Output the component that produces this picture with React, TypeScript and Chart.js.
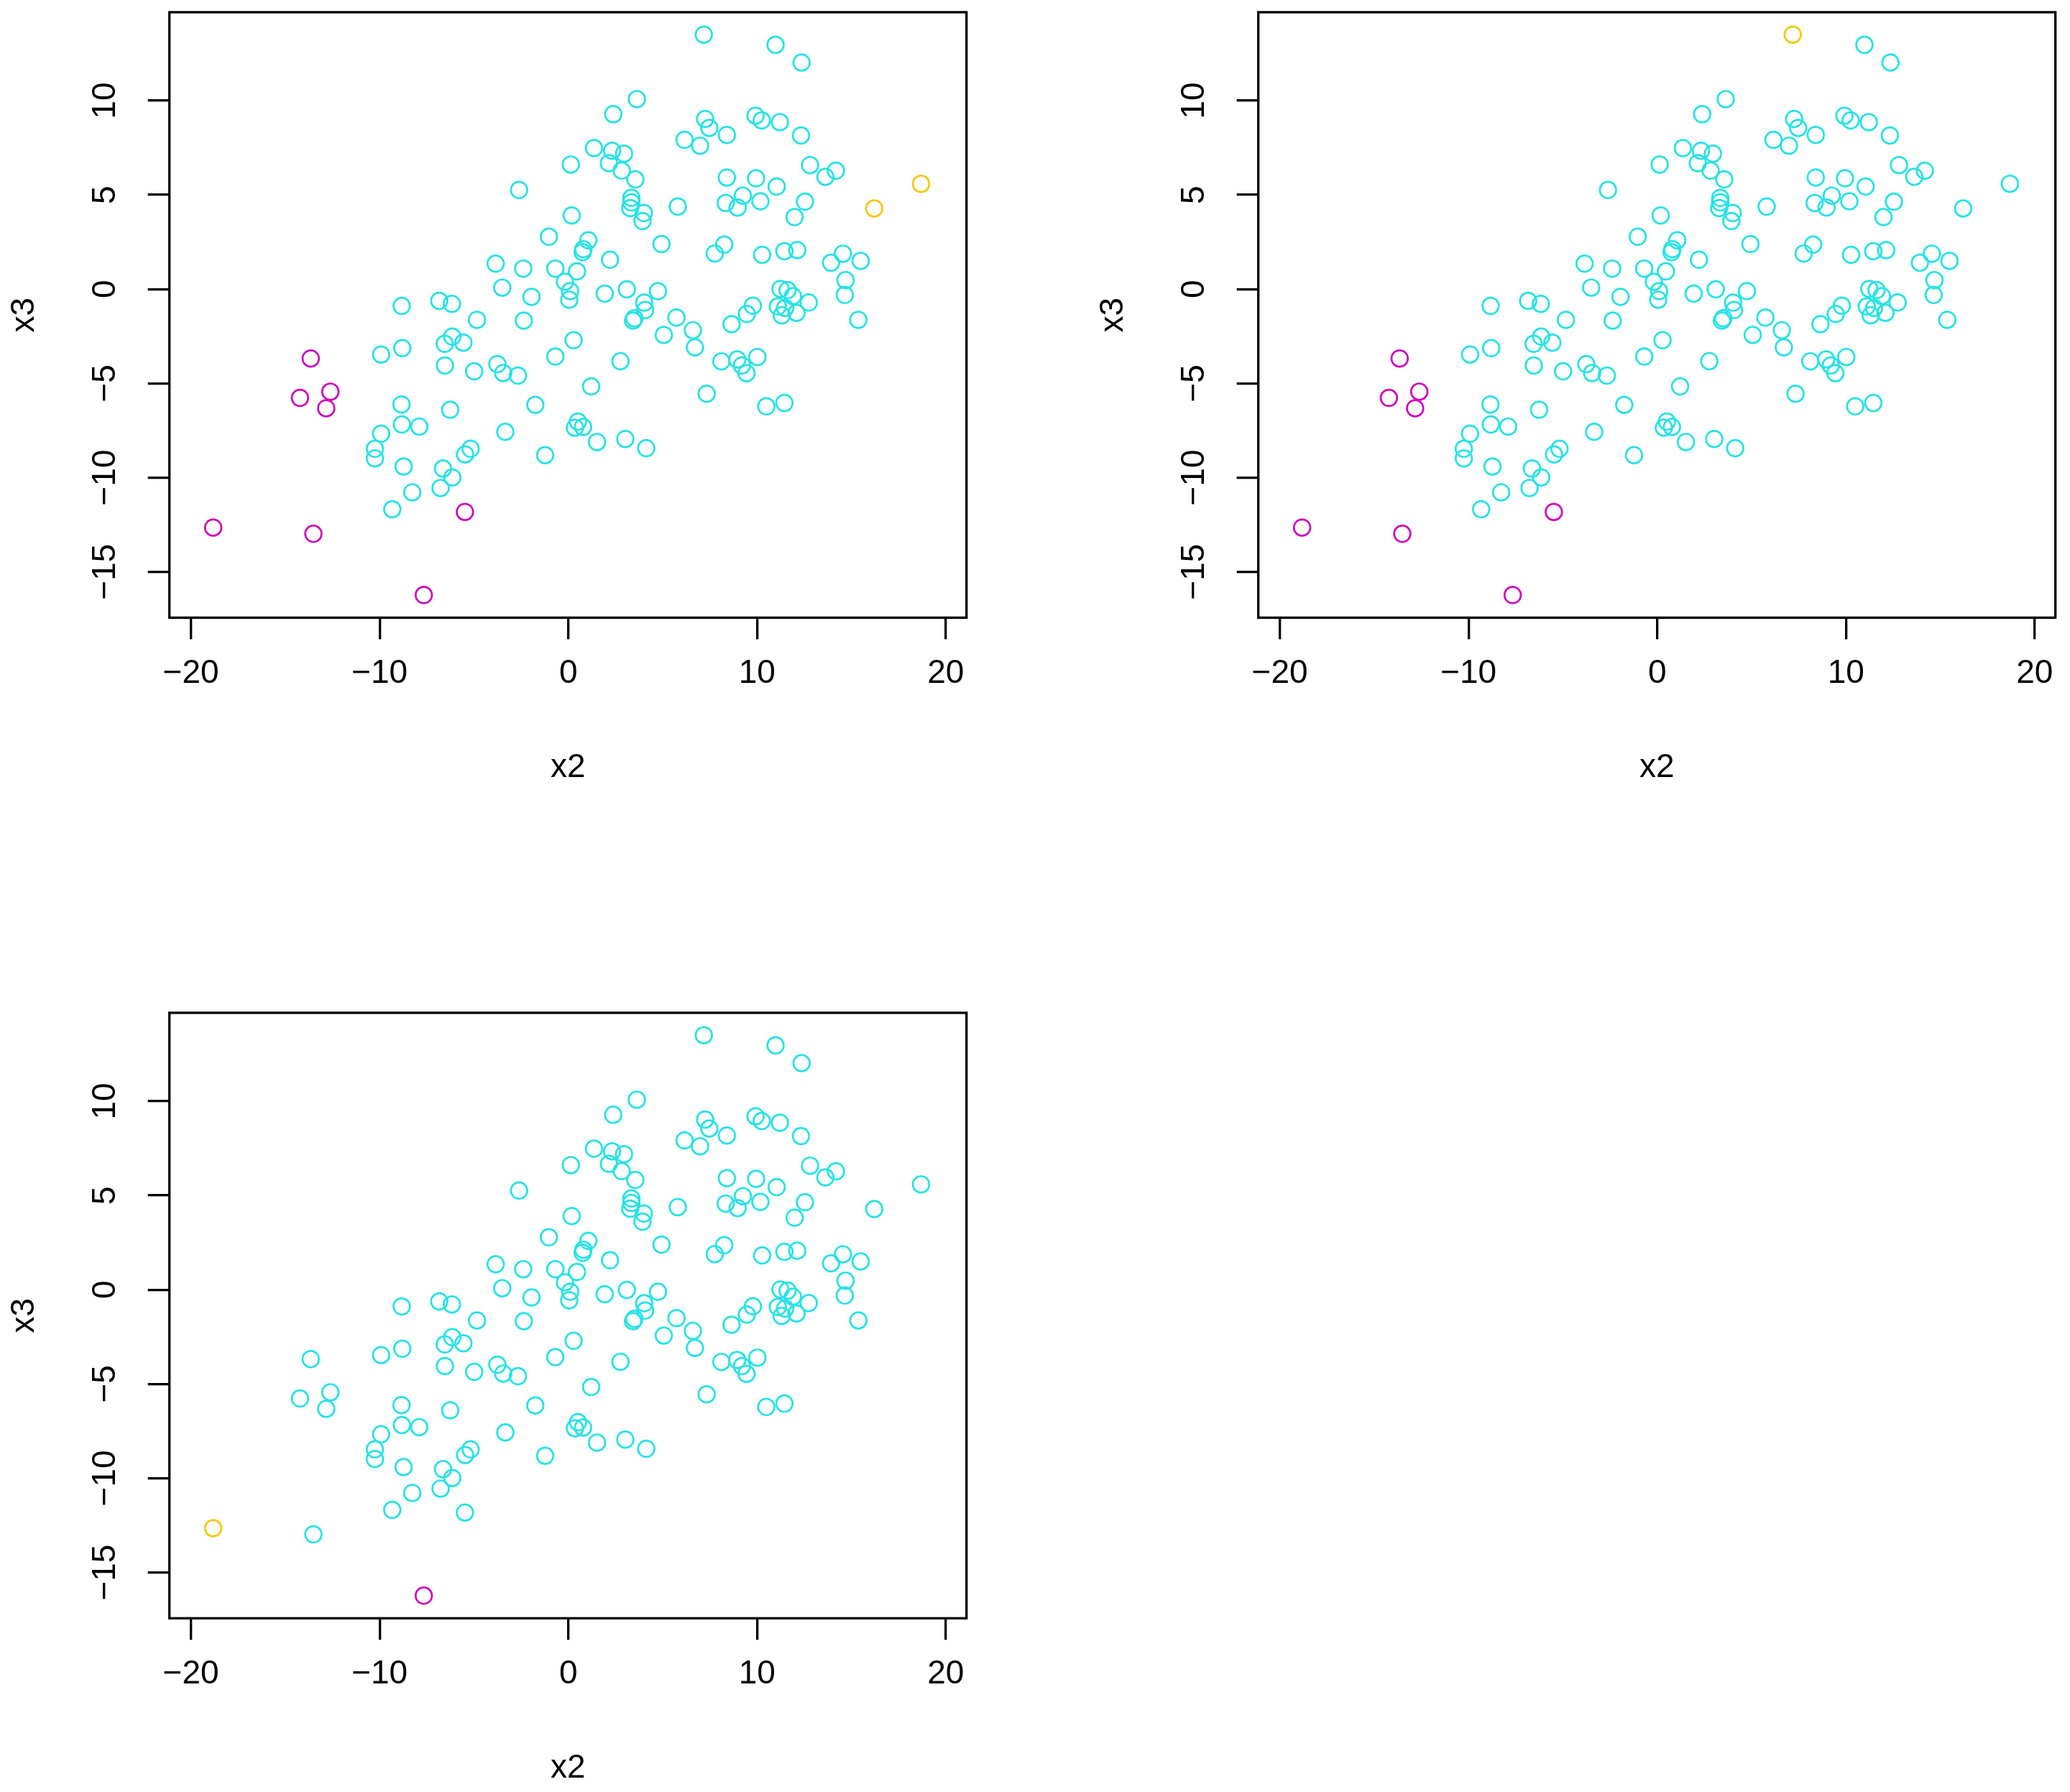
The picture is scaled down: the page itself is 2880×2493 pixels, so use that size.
import React, { useEffect, useRef } from 'react';
import { Chart, registerables } from 'chart.js';
Chart.register(...registerables);

// x2 / x3 coordinates of the 150 observations (same data in every panel)
const x2 = [
  -18.82, -7.66, -13.65, -14.22, -12.61, -12.83, -13.51, -5.48, 18.69, 16.21, 7.18,
  0.13, -2.61, 0.18, -1.03, -3.85, -2.39, -0.69, -0.18, 0.10, 0.05, -3.50, -1.95, -6.84, -6.17, -8.83, -4.84, -2.36,
  10.98, 12.36, 3.63, 2.38, 7.25, 7.47, 9.92, 10.25, 11.21, 8.40, 12.33, 6.16, 6.98, 1.36, 2.32, 2.95, 2.15, 2.83, 3.55, 12.81, 13.62, 14.18, 8.40, 9.95, 11.04,
  3.34, 3.34, 3.28, 4.00, 3.93,
  5.80, 8.34, 9.25, 8.97, 10.18, 12.54, 11.99,
  1.06, 0.80, 0.76, 2.21, 4.94, 8.26, 7.76, 10.27, 11.45, 12.13, 14.55, 13.92, 15.49, 14.69, 14.65, 0.46, 1.93, 3.10, 4.75,
  4.02, 4.07, 3.43, 3.50, 5.73, 8.65, 9.46, 9.78,
  11.24, 11.62, 11.90, 12.74, 11.10, 11.49, 12.09, 11.31, 15.37,
  0.28, 5.06, 6.60, 6.71, 2.76, 1.21, 8.11, 8.95, 9.20, 9.44, 10.02, 7.33, 10.49, 11.45, 0.51, 0.35, 0.78, 1.52, 3.02, 4.13,
  -6.15, -6.55, -5.56, -9.92, -8.80, -6.54, -4.99, -3.76, -3.45, -2.67, -0.69, -1.75, -8.84, -6.26, -8.82, -7.90, -9.92, -3.34, -1.23, -10.25,
  -10.25, -8.73, -5.18, -5.47, -6.64, -6.15, -6.77, -8.27, -9.33,
];

const x3 = [
  -12.65, -16.23, -3.68, -5.77, -5.44, -6.32, -12.98, -11.82, 5.59, 4.28, 13.50,
  6.61, 5.26, 3.91, 2.78, 1.35, 1.09, 1.09, 0.39, -0.11, -0.56, 0.08, -0.41, -0.62, -0.78, -0.89, -1.63, -1.67,
  12.96, 12.02, 10.08, 9.28, 9.03, 8.55, 9.20, 8.95, 8.86, 8.18, 8.15, 7.92, 7.61, 7.48, 7.34, 7.19, 6.68, 6.29, 5.82, 6.58, 5.96, 6.28, 5.92, 5.88, 5.44,
  4.84, 4.60, 4.30, 4.04, 3.61,
  4.38, 4.57, 4.96, 4.33, 4.66, 4.64, 3.82,
  2.59, 2.12, 1.96, 1.56, 2.39, 2.36, 1.89, 1.82, 2.01, 2.07, 1.88, 1.40, 1.50, 0.48, -0.31, 0.94, -0.24, -0.01, -0.11,
  -0.72, -1.11, -1.67, -1.55, -1.51, -1.86, -1.32, -0.88,
  0.01, -0.05, -0.37, -0.71, -0.92, -1.00, -1.26, -1.39, -1.63,
  -2.71, -2.43, -2.18, -3.09, -3.82, -5.16, -3.83, -3.73, -4.05, -4.46, -3.60, -5.55, -6.22, -6.04, -7.03, -7.35, -7.31, -8.11, -7.95, -8.44,
  -2.52, -2.90, -2.84, -3.47, -3.13, -4.05, -4.36, -3.98, -4.45, -4.59, -3.58, -6.14, -6.12, -6.40, -7.18, -7.29, -7.67, -7.57, -8.81, -8.47,
  -8.98, -9.41, -8.47, -8.77, -9.52, -9.99, -10.55, -10.78, -11.68,
];

// flagged observations (indices into x2/x3) for each panel
const panel1Magenta = [0, 1, 2, 3, 4, 5, 6, 7];
const panel1Orange = [8, 9];
const panel2Magenta = [0, 1, 2, 3, 4, 5, 6, 7];
const panel2Orange = [10];
const panel3Magenta = [1];
const panel3Orange = [0];

const xTicks = [-20, -10, 0, 10, 20];
const yTicks = [-15, -10, -5, 0, 5, 10];
const xRange = [-21.14, 21.10];
const yRange = [-17.43, 14.69];

const CYAN = '#28E2E5';
const MAGENTA = '#CD0BBC';
const ORANGE = '#F5C710';

const FONT = '"Liberation Sans", Arial, Helvetica, sans-serif';
const CW = 1440;
const CH = 1246;

const fmt = (v: number) => String(v).replace('-', '\u2212');

const boxPlugin = {
  id: 'rbox',
  afterDraw(chart: any) {
    const { ctx, chartArea } = chart;
    const { left, top, right, bottom } = chartArea;
    ctx.save();
    ctx.strokeStyle = '#000';
    ctx.lineWidth = 3.3;
    ctx.strokeRect(left, top, right - left, bottom - top);
    ctx.restore();
  },
};

function Panel({ left, top, magenta, orange }: { left: number; top: number; magenta: number[]; orange: number[] }) {
  const ref = useRef<HTMLCanvasElement | null>(null);
  useEffect(() => {
    if (!ref.current) return;
    const colors = x2.map((_, i) => (orange.includes(i) ? ORANGE : magenta.includes(i) ? MAGENTA : CYAN));
    const tickFont = { family: FONT, size: 46 };
    const chart = new Chart(ref.current, {
      type: 'scatter',
      data: {
        datasets: [
          {
            data: x2.map((x, i) => ({ x, y: x3[i] })),
            pointStyle: 'circle',
            pointRadius: 11.4,
            pointHoverRadius: 11.4,
            pointBorderWidth: 2.7,
            pointBorderColor: colors,
            pointBackgroundColor: 'rgba(0,0,0,0)',
            clip: false,
          } as any,
        ],
      },
      options: {
        animation: false,
        responsive: false,
        events: [],
        layout: { padding: { left: 6.4, top: 17, right: 95.3, bottom: 150.4 }, autoPadding: false } as any,
        plugins: { legend: { display: false }, tooltip: { enabled: false } },
        scales: {
          x: {
            type: 'linear',
            position: 'bottom',
            min: xRange[0],
            max: xRange[1],
            afterBuildTicks: (s: any) => {
              s.ticks = xTicks.map((v) => ({ value: v }));
            },
            afterFit: (s: any) => {
              s.height = 236.3;
              s.paddingLeft = 0;
              s.paddingRight = 0;
            },
            grid: { drawOnChartArea: false, drawTicks: true, tickLength: 30, color: '#000', lineWidth: 3.3 },
            border: { display: false },
            ticks: {
              color: '#000',
              font: tickFont,
              padding: 20,
              autoSkip: false,
              minRotation: 0,
              maxRotation: 0,
              callback: (v: any) => fmt(Number(v)),
            },
            title: { display: true, text: 'x2', color: '#000', font: tickFont, padding: 0 },
          },
          y: {
            type: 'linear',
            position: 'left',
            min: yRange[0],
            max: yRange[1],
            afterBuildTicks: (s: any) => {
              s.ticks = yTicks.map((v) => ({ value: v }));
            },
            afterFit: (s: any) => {
              s.width = 229.3;
              s.paddingTop = 0;
              s.paddingBottom = 0;
            },
            grid: { drawOnChartArea: false, drawTicks: true, tickLength: 30, color: '#000', lineWidth: 3.3 },
            border: { display: false },
            ticks: {
              color: '#000',
              font: tickFont,
              padding: 19,
              autoSkip: false,
              minRotation: 90,
              maxRotation: 90,
              crossAlign: 'center',
              callback: (v: any) => fmt(Number(v)),
            },
            title: { display: true, text: 'x3', color: '#000', font: tickFont, padding: 0 },
          },
        },
      } as any,
      plugins: [boxPlugin],
    });
    return () => chart.destroy();
  }, []);
  return (
    <canvas
      ref={ref}
      width={CW}
      height={CH}
      style={{ position: 'absolute', left, top, width: CW, height: CH }}
    />
  );
}

export default function App() {
  return (
    <div style={{ position: 'absolute', left: 0, top: 0, width: 2880, height: 2493, background: '#fff' }}>
      <Panel left={0} top={0} magenta={panel1Magenta} orange={panel1Orange} />
      <Panel left={1515} top={0} magenta={panel2Magenta} orange={panel2Orange} />
      <Panel left={0} top={1392} magenta={panel3Magenta} orange={panel3Orange} />
    </div>
  );
}
